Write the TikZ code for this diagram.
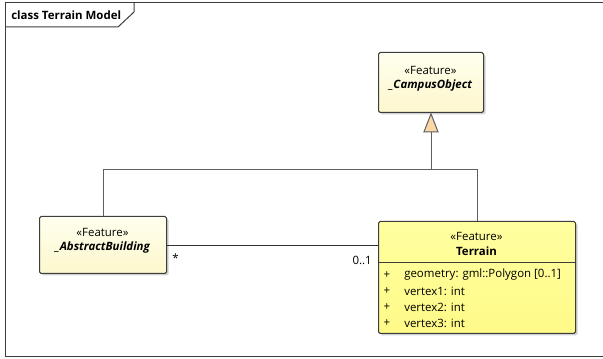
\documentclass[tikz,border=0pt]{standalone}
\usepackage{fontspec}
\setmainfont{Open Sans}
\usetikzlibrary{arrows.meta,shadows}

\definecolor{framegray}{RGB}{60,60,60}
\definecolor{linegray}{RGB}{95,95,95}
\definecolor{tipfill}{RGB}{250,215,165}
\definecolor{paletop}{RGB}{255,255,238}
\definecolor{palebot}{RGB}{252,247,204}
\definecolor{terraintop}{RGB}{255,255,160}
\definecolor{terrainbot}{RGB}{255,250,135}

\tikzset{
  classbox/.style={draw=framegray, line width=0.75pt, rounded corners=1.2pt, anchor=north west, inner sep=0pt,
    drop shadow={shadow xshift=1.5pt, shadow yshift=-1.5pt, fill=black!30, opacity=0.6}},
  featbox/.style={classbox, top color=paletop, bottom color=palebot},
  terrainbox/.style={classbox, top color=terraintop, bottom color=terrainbot},
  conn/.style={draw=linegray, line width=0.75pt},
}

\begin{document}
\begin{tikzpicture}[x=0.75pt,y=0.75pt,yscale=-1,xscale=1, font=\fontsize{8.6}{10}\selectfont]
\useasboundingbox (0,0) rectangle (603,359);

% Frame
\draw [framegray, line width=0.75pt] (603,3) -- (5,3) -- (5,357) -- (603,357);
\draw [framegray, line width=0.75pt] (5,27) -- (118,27) -- (134,12) -- (134,3);
% Text Node
\draw (10,15) node [anchor=west][inner sep=0.75pt] [font=\fontsize{8.6}{10}\selectfont\bfseries] (title) {class Terrain Model};

% Classes
\node (campus) [featbox, minimum width=78.75pt, minimum height=45pt] at (378,52) {};
\node (building) [featbox, minimum width=95.25pt, minimum height=42.75pt] at (39,216) {};
\node (terrain) [terrainbox, minimum width=147.75pt, minimum height=84pt] at (378,221) {};
\draw [framegray, line width=0.75pt] (terrain.west |- 0,263) -- (terrain.east |- 0,263);

% Text Node
\draw (430.5,70) node [inner sep=0.75pt] (campusst) {«Feature»};
\draw (430.5,86) node [inner sep=0.75pt] [font=\fontsize{8.6}{10}\selectfont\bfseries\itshape] (campusname) {\_CampusObject};
% Text Node
\draw (102.5,232) node [inner sep=0.75pt] (buildingst) {«Feature»};
\draw (102.5,248) node [inner sep=0.75pt] [font=\fontsize{8.6}{10}\selectfont\bfseries\itshape] (buildingname) {\_AbstractBuilding};
% Text Node
\draw (476.5,236) node [inner sep=0.75pt] (terrainst) {«Feature»};
\draw (476.5,251) node [inner sep=0.75pt] [font=\fontsize{8.6}{10}\selectfont\bfseries] (terrainname) {Terrain};
% Attributes
\foreach \i/\attr in {0/{geometry: gml::Polygon [0..1]}, 1/{vertex1: int}, 2/{vertex2: int}, 3/{vertex3: int}} {
  \draw (387,275+16*\i) node [inner sep=0.75pt] (plus\i) {+};
  \draw (403,275+16*\i) node [anchor=west][inner sep=0.75pt] (attr\i) {\attr};
}

% Generalization
\coordinate (gen) at (campus.south |- 0,170);
\draw [conn] (building.north) |- (gen);
\draw [conn] (terrain.north) |- (gen);
\draw [conn, -{Triangle[length=15pt, width=11.5pt, fill=tipfill]}, shorten >=-0.4pt] (gen) -- (campus.south);

% Association
\draw [conn, draw=black!80] (building.east |- 0,246) -- (terrain.west |- 0,246);
\draw (171,258) node [anchor=west][inner sep=0.75pt] (multbuilding) {*};
\draw (373,260) node [anchor=east][inner sep=0.75pt] (multterrain) {0..1};

\end{tikzpicture}
\end{document}
